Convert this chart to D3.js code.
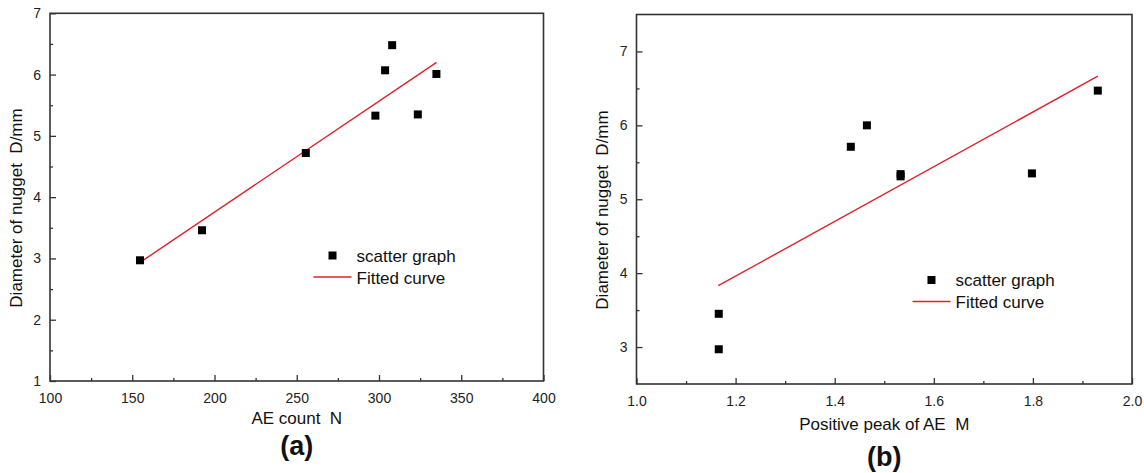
<!DOCTYPE html>
<html>
<head>
<meta charset="utf-8">
<script src="https://cdn.jsdelivr.net/npm/d3@7"></script>
<style>
body{margin:0;background:#fff;}
text{font-family:"Liberation Sans",Arial,sans-serif;white-space:pre;}
</style>
</head>
<body>
<svg id="display" width="1144" height="473"></svg>
<script>
// panel (a) data
const ae_count=[154.7,192.4,255.5,297.8,303.7,308,323.6,334.9];
const diameter_a=[2.97,3.46,4.72,5.33,6.07,6.48,5.35,6.01];
const fit_a_x=[155,335];
const fit_a_y=[2.94,6.2];
const x_ticks_a=[100,150,200,250,300,350,400];
const y_ticks_a=[1,2,3,4,5,6,7];

// panel (b) data
const peak_m=[1.166,1.166,1.4325,1.465,1.533,1.533,1.798,1.931];
const diameter_b=[2.97,3.45,5.71,6.00,5.31,5.34,5.35,6.47];
const fit_b_x=[1.165,1.931];
const fit_b_y=[3.83,6.665];
const x_ticks_b=[1.0,1.2,1.4,1.6,1.8,2.0];
const y_ticks_b=[3,4,5,6,7];

const display=d3.select("#display");
display.append("rect").attr("width",1144).attr("height",473).attr("fill","#fff");

function draw_panel(p){
    const x=d3.scaleLinear().domain(p.x_domain).range([p.left,p.right]);
    const y=d3.scaleLinear().domain(p.y_domain).range([p.bottom,p.top]);
    const g=display.append("g");
    const axis_color="#333";

    // minor ticks
    g.append("g")
        .attr("transform","translate(0,"+p.bottom+")")
        .call(d3.axisBottom(x).tickValues(p.x_minor).tickSize(-3).tickFormat(""));
    g.append("g")
        .attr("transform","translate("+p.left+",0)")
        .call(d3.axisLeft(y).tickValues(p.y_minor).tickSize(-3).tickFormat(""));

    // major ticks
    const xa=g.append("g")
        .attr("transform","translate(0,"+p.bottom+")")
        .call(d3.axisBottom(x).tickValues(p.x_ticks).tickSize(-6).tickPadding(12).tickFormat(p.x_fmt));
    const ya=g.append("g")
        .attr("transform","translate("+p.left+",0)")
        .call(d3.axisLeft(y).tickValues(p.y_ticks).tickSize(-6).tickPadding(9).tickFormat(d3.format("d")));
    for (const a of [xa,ya]){
        a.selectAll("text").style("font-size","14px").style("fill","#222");
    }
    g.selectAll(".domain").remove();
    g.selectAll(".tick line").attr("stroke",axis_color).attr("stroke-width",1.3);

    // frame
    g.append("rect")
        .attr("x",p.left).attr("y",p.top)
        .attr("width",p.right-p.left).attr("height",p.bottom-p.top)
        .attr("fill","none").attr("stroke",axis_color).attr("stroke-width",1.6);

    // fitted line
    g.append("line")
        .attr("x1",x(p.fit_x[0])).attr("y1",y(p.fit_y[0]))
        .attr("x2",x(p.fit_x[1])).attr("y2",y(p.fit_y[1]))
        .attr("stroke","#e0202a").attr("stroke-width",1.4);

    // scatter points
    const s=8;
    p.xs.forEach(function(v,i){
        g.append("rect")
            .attr("x",x(v)-s/2).attr("y",y(p.ys[i])-s/2)
            .attr("width",s).attr("height",s)
            .attr("fill","#000");
    });

    // legend
    g.append("rect")
        .attr("x",p.leg_x-4).attr("y",p.leg_y-4).attr("width",8).attr("height",8).attr("fill","#000");
    g.append("text")
        .attr("x",p.leg_x+24).attr("y",p.leg_y+6)
        .style("font-size","17px").style("fill","#111")
        .text("scatter graph");
    g.append("line")
        .attr("x1",p.leg_x-19).attr("x2",p.leg_x+19)
        .attr("y1",p.leg_y+21.5).attr("y2",p.leg_y+21.5)
        .attr("stroke","#e0202a").attr("stroke-width",1.4);
    g.append("text")
        .attr("x",p.leg_x+24).attr("y",p.leg_y+28)
        .style("font-size","17px").style("fill","#111")
        .text("Fitted curve");

    // axis titles
    const cx=(p.left+p.right)/2;
    g.append("text")
        .attr("x",cx).attr("y",p.xlabel_y)
        .style("font-size","17px").style("fill","#111")
        .style("text-anchor","middle")
        .text(p.x_label);
    g.append("text")
        .attr("transform","translate("+p.ylabel_x+","+p.ylabel_cy+") rotate(-90)")
        .style("font-size","17px").style("fill","#111")
        .style("text-anchor","middle")
        .text("Diameter of nugget  D/mm");
    g.append("text")
        .attr("x",cx).attr("y",p.tag_y)
        .style("font-size","27px").style("font-weight","bold").style("fill","#111")
        .style("text-anchor","middle")
        .text(p.tag);
}

draw_panel({
    left:50,right:543.5,top:13.3,bottom:381,
    x_domain:[100,400],y_domain:[1,7],
    x_ticks:x_ticks_a,y_ticks:y_ticks_a,
    x_minor:[125,175,225,275,325,375],y_minor:[1.5,2.5,3.5,4.5,5.5,6.5],
    x_fmt:d3.format("d"),
    xs:ae_count,ys:diameter_a,fit_x:fit_a_x,fit_y:fit_a_y,
    leg_x:332.5,leg_y:255.5,
    x_label:"AE count  N",xlabel_y:424,ylabel_x:22,ylabel_cy:208,
    tag:"(a)",tag_y:455
});

draw_panel({
    left:636.5,right:1132,top:14.5,bottom:384,
    x_domain:[1.0,2.0],y_domain:[2.5,7.5],
    x_ticks:x_ticks_b,y_ticks:y_ticks_b,
    x_minor:[1.1,1.3,1.5,1.7,1.9],y_minor:[3.5,4.5,5.5,6.5],
    x_fmt:d3.format(".1f"),
    xs:peak_m,ys:diameter_b,fit_x:fit_b_x,fit_y:fit_b_y,
    leg_x:931.5,leg_y:280,
    x_label:"Positive peak of AE  M",xlabel_y:430,ylabel_x:608,ylabel_cy:210,
    tag:"(b)",tag_y:466
});
</script>
</body>
</html>
